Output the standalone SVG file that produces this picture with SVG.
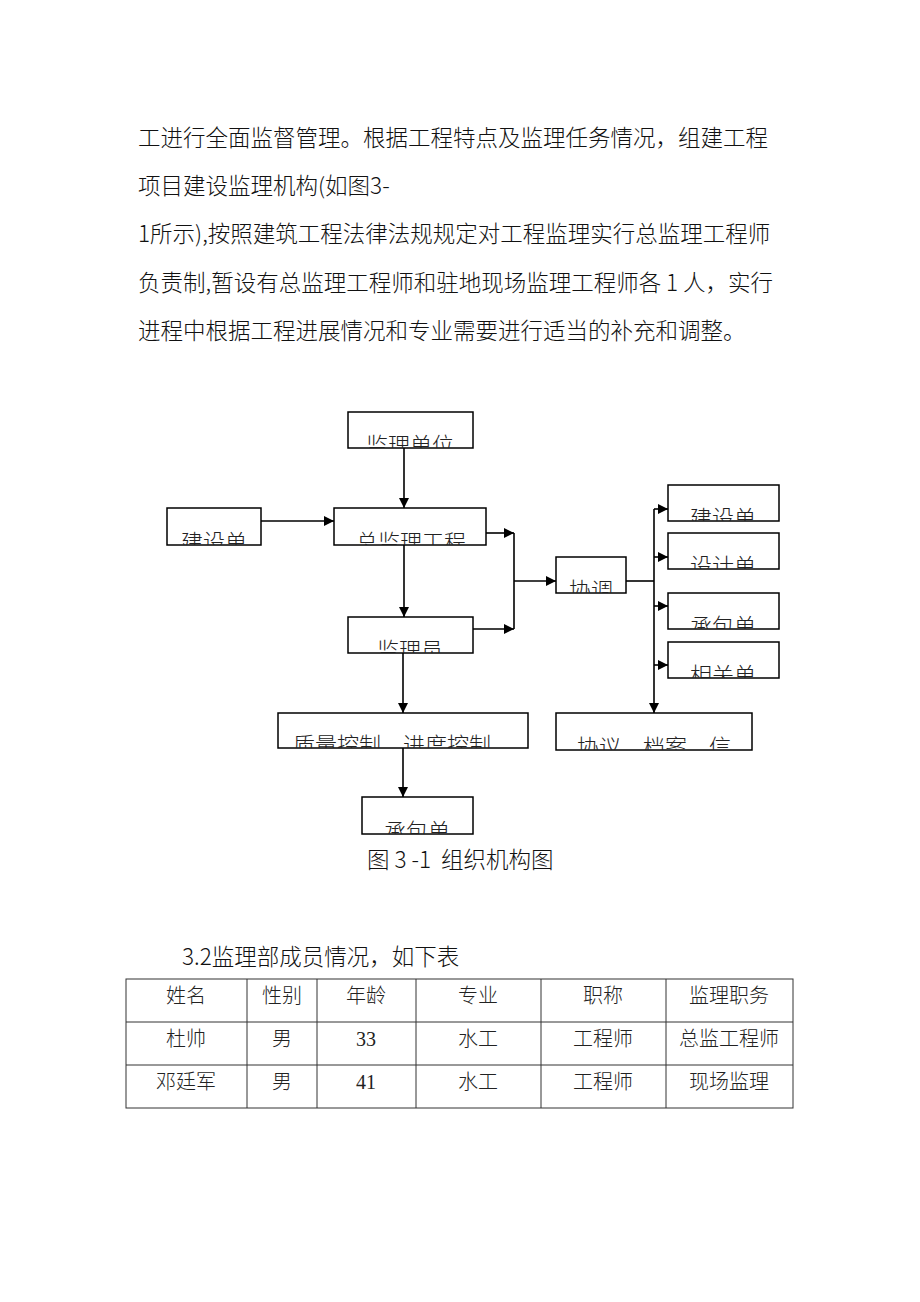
<svg xmlns="http://www.w3.org/2000/svg" width="920" height="1302" viewBox="0 0 920 1302">
<style>
.body{font-family:"Noto Sans CJK SC","Noto Sans",sans-serif;font-size:22.5px;font-weight:300;fill:#111}
.box{fill:#fff;stroke:#000;stroke-width:1.5}
.bt{font-family:"Noto Sans CJK SC","Noto Sans",sans-serif;font-size:22px;font-weight:300;fill:#222}
.ln{fill:none;stroke:#000;stroke-width:1.6}
.tb{fill:none;stroke:#333;stroke-width:1}
.tt{font-family:"Liberation Serif","Noto Sans CJK SC",serif;font-size:20px;font-weight:300;fill:#222;text-anchor:middle}
.tn{font-weight:400}
</style>
<defs>
<marker id="ah" viewBox="0 0 10 10" refX="10" refY="5" markerWidth="10" markerHeight="10" markerUnits="userSpaceOnUse" orient="auto">
<path d="M0,0 L10,5 L0,10 Z" fill="#000"/>
</marker>
<clipPath id="c1"><rect x="348" y="412" width="125" height="36"/></clipPath>
<clipPath id="c2"><rect x="167" y="508" width="94" height="37"/></clipPath>
<clipPath id="c3"><rect x="334" y="508" width="152" height="37"/></clipPath>
<clipPath id="c4"><rect x="348" y="617" width="125" height="36"/></clipPath>
<clipPath id="c5"><rect x="278" y="713" width="250" height="35"/></clipPath>
<clipPath id="c6"><rect x="362" y="797" width="111" height="37"/></clipPath>
<clipPath id="c7"><rect x="556" y="557" width="70" height="36"/></clipPath>
<clipPath id="c8"><rect x="668" y="485" width="111" height="36"/></clipPath>
<clipPath id="c9"><rect x="668" y="533" width="111" height="36"/></clipPath>
<clipPath id="c10"><rect x="668" y="593" width="111" height="36"/></clipPath>
<clipPath id="c11"><rect x="668" y="642" width="111" height="36"/></clipPath>
<clipPath id="c12"><rect x="556" y="713" width="196" height="37"/></clipPath>
</defs>
<rect width="920" height="1302" fill="#fff"/>
<g id="paragraph">
<text class="body" x="138" y="146">工进行全面监督管理。根据工程特点及监理任务情况，组建工程</text>
<text class="body" x="138" y="194">项目建设监理机构(如图3-</text>
<text class="body" x="138" y="242">1所示),按照建筑工程法律法规规定对工程监理实行总监理工程师</text>
<text class="body" x="138" y="291">负责制,暂设有总监理工程师和驻地现场监理工程师各 1 人，实行</text>
<text class="body" x="138" y="339">进程中根据工程进展情况和专业需要进行适当的补充和调整。</text>
</g>
<g id="connectors">
<line class="ln" x1="404" y1="448" x2="404" y2="508" marker-end="url(#ah)"/>
<line class="ln" x1="261" y1="521" x2="334" y2="521" marker-end="url(#ah)"/>
<line class="ln" x1="486" y1="533" x2="514" y2="533" marker-end="url(#ah)"/>
<line class="ln" x1="404" y1="545" x2="404" y2="617" marker-end="url(#ah)"/>
<line class="ln" x1="473" y1="629" x2="514" y2="629" marker-end="url(#ah)"/>
<line class="ln" x1="514" y1="533" x2="514" y2="629"/>
<line class="ln" x1="514" y1="581" x2="556" y2="581" marker-end="url(#ah)"/>
<line class="ln" x1="403" y1="653" x2="403" y2="713" marker-end="url(#ah)"/>
<line class="ln" x1="403" y1="748" x2="403" y2="797" marker-end="url(#ah)"/>
<line class="ln" x1="626" y1="581" x2="654" y2="581"/>
<line class="ln" x1="654" y1="509" x2="654" y2="713" marker-end="url(#ah)"/>
<line class="ln" x1="654" y1="509" x2="668" y2="509" marker-end="url(#ah)"/>
<line class="ln" x1="654" y1="557" x2="668" y2="557" marker-end="url(#ah)"/>
<line class="ln" x1="654" y1="606" x2="668" y2="606" marker-end="url(#ah)"/>
<line class="ln" x1="654" y1="665" x2="668" y2="665" marker-end="url(#ah)"/>
</g>
<g id="n-jianli-danwei"><rect class="box" x="348" y="412" width="125" height="36"/><text class="bt" x="410" y="453" text-anchor="middle" clip-path="url(#c1)">监理单位</text></g>
<g id="n-jianshe-left"><rect class="box" x="167" y="508" width="94" height="37"/><text class="bt" x="214" y="550" text-anchor="middle" clip-path="url(#c2)">建设单</text></g>
<g id="n-zongjian"><rect class="box" x="334" y="508" width="152" height="37"/><text class="bt" x="411" y="550" text-anchor="middle" clip-path="url(#c3)">总监理工程</text></g>
<g id="n-jianliyuan"><rect class="box" x="348" y="617" width="125" height="36"/><text class="bt" x="410" y="658" text-anchor="middle" clip-path="url(#c4)">监理员</text></g>
<g id="n-zhiliang"><rect class="box" x="278" y="713" width="250" height="35"/><text class="bt" x="293" y="753" clip-path="url(#c5)">质量控制、进度控制</text></g>
<g id="n-chengbao-bottom"><rect class="box" x="362" y="797" width="111" height="37"/><text class="bt" x="417" y="839" text-anchor="middle" clip-path="url(#c6)">承包单</text></g>
<g id="n-xietiao"><rect class="box" x="556" y="557" width="70" height="36"/><text class="bt" x="591" y="598" text-anchor="middle" clip-path="url(#c7)">协调</text></g>
<g id="n-jianshe-right"><rect class="box" x="668" y="485" width="111" height="36"/><text class="bt" x="723" y="526" text-anchor="middle" clip-path="url(#c8)">建设单</text></g>
<g id="n-sheji"><rect class="box" x="668" y="533" width="111" height="36"/><text class="bt" x="723" y="574" text-anchor="middle" clip-path="url(#c9)">设计单</text></g>
<g id="n-chengbao-right"><rect class="box" x="668" y="593" width="111" height="36"/><text class="bt" x="723" y="634" text-anchor="middle" clip-path="url(#c10)">承包单</text></g>
<g id="n-xiangguan"><rect class="box" x="668" y="642" width="111" height="36"/><text class="bt" x="723" y="683" text-anchor="middle" clip-path="url(#c11)">相关单</text></g>
<g id="n-xieyi"><rect class="box" x="556" y="713" width="196" height="37"/><text class="bt" x="577" y="755" clip-path="url(#c12)">协议、档案、信</text></g>
<g id="caption"><text class="body" x="367" y="868" xml:space="preserve" style="white-space:pre">图 3 -1  组织机构图</text></g>
<g id="table-heading"><text class="body" x="182" y="965">3.2监理部成员情况，如下表</text></g>
<g id="table">
<rect class="tb" x="126" y="979" width="667" height="129"/>
<line class="tb" x1="126" y1="1022" x2="793" y2="1022"/>
<line class="tb" x1="126" y1="1065" x2="793" y2="1065"/>
<line class="tb" x1="247" y1="979" x2="247" y2="1108"/>
<line class="tb" x1="317" y1="979" x2="317" y2="1108"/>
<line class="tb" x1="416" y1="979" x2="416" y2="1108"/>
<line class="tb" x1="541" y1="979" x2="541" y2="1108"/>
<line class="tb" x1="666" y1="979" x2="666" y2="1108"/>
<text class="tt" x="186" y="1003">姓名</text>
<text class="tt" x="282" y="1003">性别</text>
<text class="tt" x="366" y="1003">年龄</text>
<text class="tt" x="478" y="1003">专业</text>
<text class="tt" x="603" y="1003">职称</text>
<text class="tt" x="729" y="1003">监理职务</text>
<text class="tt" x="186" y="1046">杜帅</text>
<text class="tt" x="282" y="1046">男</text>
<text class="tt tn" x="366" y="1046">33</text>
<text class="tt" x="478" y="1046">水工</text>
<text class="tt" x="603" y="1046">工程师</text>
<text class="tt" x="729" y="1046">总监工程师</text>
<text class="tt" x="186" y="1089">邓廷军</text>
<text class="tt" x="282" y="1089">男</text>
<text class="tt tn" x="366" y="1089">41</text>
<text class="tt" x="478" y="1089">水工</text>
<text class="tt" x="603" y="1089">工程师</text>
<text class="tt" x="729" y="1089">现场监理</text>
</g>
</svg>
